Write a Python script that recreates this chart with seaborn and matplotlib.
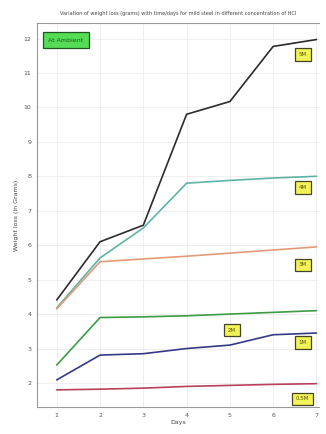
import matplotlib
matplotlib.use("Agg")
import matplotlib.pyplot as plt
import seaborn as sns
import pandas as pd

days = [1, 2, 3, 4, 5, 6, 7]
series_names = ["5M", "4M", "3M", "2M", "1M", "0.5M"]
loss_5m = [4.41, 6.10, 6.58, 9.80, 10.17, 11.77, 11.97]
loss_4m = [4.18, 5.63, 6.50, 7.80, 7.88, 7.95, 8.00]
loss_3m = [4.15, 5.52, 5.60, 5.68, 5.77, 5.86, 5.95]
loss_2m = [2.52, 3.90, 3.92, 3.95, 4.00, 4.05, 4.10]
loss_1m = [2.09, 2.81, 2.85, 3.00, 3.10, 3.40, 3.45]
loss_05m = [1.80, 1.82, 1.85, 1.90, 1.93, 1.96, 1.98]
y_ticks = [2, 3, 4, 5, 6, 7, 8, 9, 10, 11, 12]

all_series = [loss_5m, loss_4m, loss_3m, loss_2m, loss_1m, loss_05m]
df = pd.DataFrame({
    "Days": days * len(series_names),
    "Weight loss": [v for s in all_series for v in s],
    "Concentration": [n for n in series_names for _ in days],
})

palette = {"5M": "#2b2b2b", "4M": "#5fb3a6", "3M": "#e39a7a",
           "2M": "#3c9c44", "1M": "#343a86", "0.5M": "#b8405a"}

sns.set_theme(style="whitegrid")
plt.rcParams["font.family"] = ["DejaVu Sans"]

fig = plt.figure(figsize=(3.26, 4.34), dpi=100)
ax = fig.add_axes([0.113, 0.062, 0.867, 0.885])
sns.lineplot(data=df, x="Days", y="Weight loss", hue="Concentration",
             palette=palette, linewidth=1.2, legend=False, ax=ax)

ax.set_xlim(0.54, 7.07)
ax.set_ylim(1.3, 12.45)
ax.set_xticks(days)
ax.set_yticks(y_ticks)
ax.tick_params(axis="both", labelsize=4.5, colors="#555555", length=2, pad=2)
ax.grid(True, color="#ececec", linewidth=0.6)
ax.spines["right"].set_visible(False)
for side in ["left", "bottom", "top"]:
    ax.spines[side].set_color("#999999")
    ax.spines[side].set_linewidth(0.8)
ax.set_xlabel("Days", fontsize=4.5, color="#444444", labelpad=2)
ax.set_ylabel("Weight loss (in Grams)", fontsize=4.5, color="#444444", labelpad=3)
ax.set_title("Variation of weight loss (grams) with time/days for mild steel in different concentration of HCl",
             fontsize=3.6, color="#444444", pad=6)

box = dict(boxstyle="square,pad=0.7", facecolor="#f2f25a", edgecolor="#444422", linewidth=0.9)
offsets = {"5M": (-10, -11), "4M": (-10, -8), "3M": (-10, -13),
           "2M": (-61, -14), "1M": (-10, -7), "0.5M": (-10, -11)}
for name, vals in zip(series_names, all_series):
    ax.annotate(name, xy=(days[-1], vals[-1]), xytext=offsets[name],
                textcoords="offset points", ha="center", va="center",
                fontsize=4, color="#555500", bbox=box)

ax.text(0.04, 0.955, "At Ambient", transform=ax.transAxes, fontsize=4.5,
        color="#1d5a1d", ha="left", va="center",
        bbox=dict(boxstyle="square,pad=0.9", facecolor="#55dd55", edgecolor="#225522", linewidth=0.9))

fig.savefig("out.png", dpi=100)
